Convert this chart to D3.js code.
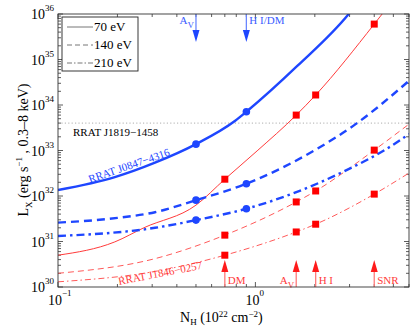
<!DOCTYPE html>
<html lang="en">
<head>
  <meta charset="UTF-8">
  <title>RRAT X-ray luminosity limits vs N_H</title>
  <script src="https://d3js.org/d3.v7.min.js"></script>
  <style>
    body { margin: 0; background: #fff; }
  </style>
</head>
<body>
  <div id="chart"></div>
  <script>
    const width = 415, height = 330;
    const margin = { left: 58, right: 6, top: 14, bottom: 43 };

    // curves: [N_H (1e22 cm^-2), L_X (erg/s)]
    const blue70 = [[0.1, 1.35e32], [0.194, 2.6e32], [0.31, 5.4e32], [0.5, 1.38e33], [0.79, 4.5e33], [0.9, 7.1e33], [1.63, 7.2e34], [2.97, 1e36], [3.2, 1.5e36]];
    const blue140 = [[0.1, 2.6e31], [0.2, 3.3e31], [0.31, 4.4e31], [0.5, 8.1e31], [0.9, 1.86e32], [1.97, 9.8e32], [3.22, 3.8e33], [6, 3.4e34]];
    const blue210 = [[0.1, 1.32e31], [0.31, 2.0e31], [0.5, 2.95e31], [0.9, 5.25e31], [2.7, 3.2e32], [5.26, 1.55e33], [6, 2.3e33]];
    const red70 = [[0.1, 5.0e30], [0.194, 9.8e30], [0.272, 2.0e31], [0.5, 6.3e31], [0.7, 2.34e32], [1.02, 9.8e32], [1.61, 6.0e33], [2.02, 1.66e34], [4.0, 6.0e35], [4.6, 1.3e36]];
    const red140 = [[0.1, 2.0e30], [0.31, 4.2e30], [0.7, 1.38e31], [1.61, 7.4e31], [2.02, 1.29e32], [4.0, 1.02e33], [6, 3.8e33]];
    const red210 = [[0.1, 1.3e30], [0.31, 2.2e30], [0.7, 5.0e30], [1.61, 1.62e31], [2.02, 2.4e31], [4.0, 1.1e32], [6, 3.2e32]];

    // marked points
    const blueNH = [0.5, 0.9];
    const blue70Pts = [1.38e33, 7.1e33];
    const blue140Pts = [8.1e31, 1.86e32];
    const blue210Pts = [2.95e31, 5.25e31];
    const redNH = [0.7, 1.61, 2.02, 4.0];
    const red70Pts = [2.34e32, 6.0e33, 1.66e34, 6.0e35];
    const red140Pts = [1.38e31, 7.4e31, 1.29e32, 1.02e33];
    const red210Pts = [5.0e30, 1.62e31, 2.4e31, 1.1e32];

    // arrows (N_H estimates)
    const blueArrows = [{ nh: 0.5, label: "A", sub: "V", side: "left" }, { nh: 0.9, label: "H I/DM", sub: "", side: "right" }];
    const redArrows = [
      { nh: 0.7, label: "DM", sub: "", side: "right" },
      { nh: 1.61, label: "A", sub: "V", side: "left" },
      { nh: 2.02, label: "H I", sub: "", side: "right" },
      { nh: 4.0, label: "SNR", sub: "", side: "right" }
    ];

    const j1819Limit = 4e33;
    const xTicks = [0.1, 1];
    const xTickExp = ["−1", "0"];
    const yTickExp = [30, 31, 32, 33, 34, 35, 36];
    const legendLabels = ["70 eV", "140 eV", "210 eV"];

    const BLUE = "#1e46ff", RED = "#ff3b3b";

    const svg = d3.select("#chart").append("svg").attr("width", width).attr("height", height)
      .attr("font-family", "'Liberation Serif', 'Times New Roman', 'DejaVu Serif', 'Noto Serif', Times, serif");

    const x = d3.scaleLog().domain([0.1, 6]).range([margin.left, width - margin.right]);
    const y = d3.scaleLog().domain([1e30, 1e36]).range([height - margin.bottom, margin.top]);
    const x0 = x.range()[0], x1 = x.range()[1], y0 = y.range()[0], y1 = y.range()[1];

    svg.append("clipPath").attr("id", "clip")
      .append("rect").attr("x", x0).attr("y", y1).attr("width", x1 - x0).attr("height", y0 - y1);

    // ticks (inside, on all four sides)
    const g = svg.append("g");
    const minorX = [];
    [0.1, 1].forEach(d => { for (let k = 2; k <= 9; k++) if (d * k <= 6.001) minorX.push(d * k); });
    const minorY = [];
    for (let e = 30; e < 36; e++) for (let k = 2; k <= 9; k++) minorY.push(k * Math.pow(10, e));

    function tick(x1_, y1_, x2_, y2_) {
      g.append("line").attr("x1", x1_).attr("y1", y1_).attr("x2", x2_).attr("y2", y2_)
        .attr("stroke", "#333").attr("stroke-width", 0.8);
    }
    xTicks.forEach(d => { tick(x(d), y0, x(d), y0 - 5); tick(x(d), y1, x(d), y1 + 5); });
    minorX.forEach(d => { tick(x(d), y0, x(d), y0 - 3); tick(x(d), y1, x(d), y1 + 3); });
    yTickExp.forEach(e => { const v = y(Math.pow(10, e)); tick(x0, v, x0 + 5, v); tick(x1, v, x1 - 5, v); });
    minorY.forEach(d => { tick(x0, y(d), x0 + 3, y(d)); tick(x1, y(d), x1 - 3, y(d)); });

    // tick labels
    xTicks.forEach((d, i) => {
      svg.append("text").attr("x", x(d) + 4).attr("y", 305).attr("text-anchor", "end")
        .attr("font-size", 14).text("10");
      svg.append("text").attr("x", x(d) + 4).attr("y", 296).attr("font-size", 9).text(xTickExp[i]);
    });
    yTickExp.forEach(e => {
      const v = y(Math.pow(10, e));
      svg.append("text").attr("x", 45).attr("y", v + 5).attr("text-anchor", "end")
        .attr("font-size", 14).text("10");
      svg.append("text").attr("x", 45).attr("y", v - 3).attr("font-size", 9).text(e);
    });

    // threshold line for RRAT J1819-1458
    svg.append("line").attr("x1", x0).attr("x2", x1).attr("y1", y(j1819Limit)).attr("y2", y(j1819Limit))
      .attr("stroke", "#999").attr("stroke-width", 0.8).attr("stroke-dasharray", "1.2,2.2");
    svg.append("text").attr("x", 73).attr("y", y(j1819Limit) + 13).attr("font-size", 11)
      .text("RRAT J1819−1458");

    // curves
    const line = d3.line().x(d => x(d[0])).y(d => y(d[1])).curve(d3.curveMonotoneX);
    const curves = svg.append("g").attr("clip-path", "url(#clip)");
    const series = [
      { data: red70, color: RED, w: 1, dash: null },
      { data: red140, color: "#ff5a5a", w: 1, dash: "6,4" },
      { data: red210, color: "#ff5a5a", w: 1, dash: "6,3,1.5,3" },
      { data: blue70, color: BLUE, w: 2.4, dash: null },
      { data: blue140, color: BLUE, w: 2.4, dash: "8,5" },
      { data: blue210, color: BLUE, w: 2.4, dash: "8,4,2.5,4" }
    ];
    series.forEach(s => {
      curves.append("path").datum(s.data).attr("d", line)
        .attr("fill", "none").attr("stroke", s.color).attr("stroke-width", s.w)
        .attr("stroke-dasharray", s.dash);
    });

    // markers
    [blue70Pts, blue140Pts, blue210Pts].forEach(pts => {
      svg.selectAll(null).data(pts).enter().append("circle")
        .attr("cx", (d, i) => x(blueNH[i])).attr("cy", d => y(d)).attr("r", 3.8).attr("fill", BLUE);
    });
    [red70Pts, red140Pts, red210Pts].forEach(pts => {
      svg.selectAll(null).data(pts).enter().append("rect")
        .attr("x", (d, i) => x(redNH[i]) - 3.5).attr("y", d => y(d) - 3.5)
        .attr("width", 7).attr("height", 7).attr("fill", "#ff0000");
    });

    // curve labels
    svg.append("text").attr("transform", "translate(90,183) rotate(-19)")
      .attr("font-size", 11).attr("fill", BLUE).text("RRAT J0847−4316");
    svg.append("text").attr("transform", "translate(119,285) rotate(-11)")
      .attr("font-size", 11).attr("fill", RED).text("RRAT J1846−0257");

    // arrows
    function arrowLabel(a, ax, baseY, color) {
      const t = svg.append("text").attr("y", baseY).attr("font-size", 11).attr("fill", color);
      if (a.side === "left") t.attr("x", ax - 2).attr("text-anchor", "end");
      else t.attr("x", ax + 3);
      if (a.sub) {
        t.append("tspan").text(a.label);
        t.append("tspan").attr("dy", 4).attr("font-size", 9).text(a.sub);
      } else t.text(a.label);
    }
    blueArrows.forEach(a => {
      const ax = x(a.nh);
      svg.append("line").attr("x1", ax).attr("x2", ax).attr("y1", y1).attr("y2", 34)
        .attr("stroke", "#6a86ff").attr("stroke-width", 1.3);
      svg.append("path").attr("d", `M${ax - 3.5},30 L${ax + 3.5},30 L${ax},42 Z`).attr("fill", BLUE);
      arrowLabel(a, ax, 24, "#3a5cff");
    });
    redArrows.forEach(a => {
      const ax = x(a.nh);
      svg.append("line").attr("x1", ax).attr("x2", ax).attr("y1", y0).attr("y2", 268)
        .attr("stroke", "#ff7a7a").attr("stroke-width", 1.3);
      svg.append("path").attr("d", `M${ax - 3.5},272 L${ax + 3.5},272 L${ax},260 Z`).attr("fill", "#ff1a1a");
      arrowLabel(a, ax, 284, RED);
    });

    // frame
    svg.append("rect").attr("x", x0).attr("y", y1).attr("width", x1 - x0).attr("height", y0 - y1)
      .attr("fill", "none").attr("stroke", "#333").attr("stroke-width", 0.9);

    // legend
    const lg = svg.append("g");
    lg.append("rect").attr("x", 62).attr("y", 17).attr("width", 76).attr("height", 54)
      .attr("fill", "#fff").attr("stroke", "#222").attr("stroke-width", 0.9);
    const legendDash = [null, "5,3", "5,2,1.5,2"];
    legendLabels.forEach((lab, i) => {
      const ly = 27 + i * 18;
      lg.append("line").attr("x1", 67).attr("x2", 93).attr("y1", ly).attr("y2", ly)
        .attr("stroke", "#777").attr("stroke-width", 1).attr("stroke-dasharray", legendDash[i]);
      lg.append("text").attr("x", 94).attr("y", ly + 4).attr("font-size", 13).text(lab);
    });

    // axis titles
    const xt = svg.append("text").attr("x", 180).attr("y", 322).attr("font-size", 14);
    xt.append("tspan").text("N");
    xt.append("tspan").attr("dy", 3).attr("font-size", 9).text("H");
    xt.append("tspan").attr("dy", -3).text(" (10");
    xt.append("tspan").attr("dy", -5).attr("font-size", 9).text("22");
    xt.append("tspan").attr("dy", 5).text(" cm");
    xt.append("tspan").attr("dy", -5).attr("font-size", 9).text("−2");
    xt.append("tspan").attr("dy", 5).text(")");

    const yt = svg.append("text").attr("transform", "translate(28,150) rotate(-90)")
      .attr("text-anchor", "middle").attr("font-size", 14);
    yt.append("tspan").text("L");
    yt.append("tspan").attr("dy", 4).attr("font-size", 9).text("X");
    yt.append("tspan").attr("dy", -4).text(" (erg s");
    yt.append("tspan").attr("dy", -6).attr("font-size", 9).text("−1");
    yt.append("tspan").attr("dy", 6).text(" , 0.3–8 keV)");
  </script>
</body>
</html>
